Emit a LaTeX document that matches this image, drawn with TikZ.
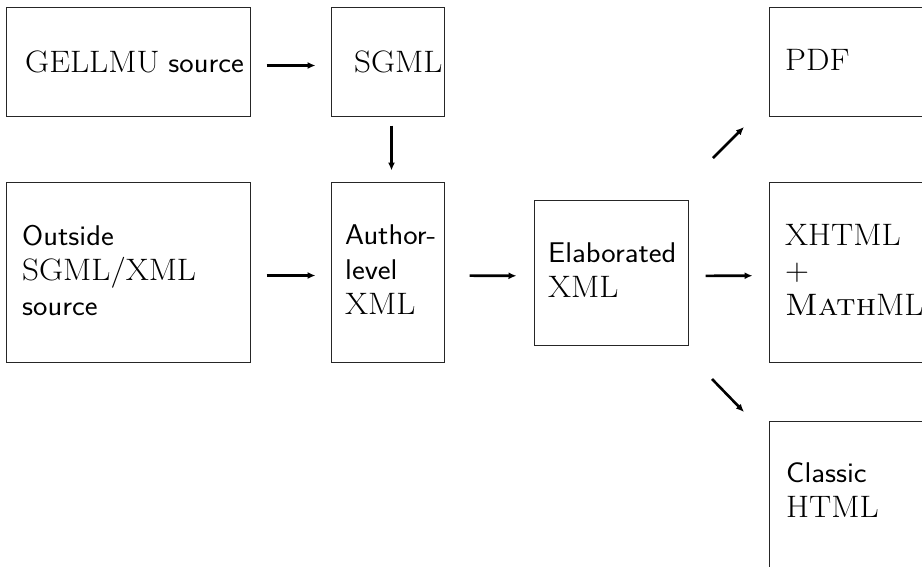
\documentclass[tikz,border=0pt]{standalone}
\usepackage{fontspec}
\usetikzlibrary{arrows.meta,calc}
\newcommand{\sfs}{\fontsize{28.5}{35}\selectfont\sffamily}
\tikzset{
  box/.style={draw=black!85, line width=1pt, rectangle, inner sep=0pt},
  txt/.style={anchor=west, align=left, inner sep=0pt, xscale=1.07, transform shape,
              font=\fontsize{31}{35}\selectfont},
  arr/.style={line width=2.6pt, -{Latex[length=8pt,width=7pt]}}
}
\begin{document}
\begin{tikzpicture}[x=1pt,y=-1pt]
\useasboundingbox (0,0) rectangle (922,566);
\clip (0,0) rectangle (922,566);
% boxes
\node[box, minimum width=244pt, minimum height=109pt] (gel) at (128,61.5) {};
\node[box, minimum width=113pt, minimum height=109pt] (sgml) at (387.5,61.5) {};
\node[box, minimum width=244pt, minimum height=180pt] (out) at (128,272) {};
\node[box, minimum width=113pt, minimum height=180pt] (auth) at (387.5,272) {};
\node[box, minimum width=154pt, minimum height=145pt] (elab) at (611,272.5) {};
\node[box, minimum width=182pt, minimum height=109pt] (pdf) at (860,61.5) {};
\node[box, minimum width=182pt, minimum height=180pt] (xhtml) at (860,272) {};
\node[box, minimum width=182pt, minimum height=180pt] (cls) at (860,511) {};
% texts
\node[txt] (tgel) at (25,62) {GELLMU\hspace{-1pt} {\sfs source}};
\node[txt] (tsgml) at (354,62) {SGML};
\node[txt] (tout) at (22,270) {{\sfs Outside}\\SGML/XML\\{\sfs source}};
\node[txt] (tauth) at (345,270) {{\sfs Author-}\\{\sfs level}\\XML};
\node[txt] (telab) at (548,270) {{\sfs Elaborated}\\XML};
\node[txt] (tpdf) at (785,60) {PDF};
\node[txt] (txhtml) at (785,270) {XHTML\\+\\\textsc{Math}ML};
\node[txt] (tcls) at (786,490) {{\sfs Classic}\\HTML};
% connectors
\draw[arr, shorten <=16pt, shorten >=15pt, transform canvas={yshift=-4pt}] (gel) -- (sgml);
\draw[arr, shorten <=9pt, shorten >=11pt, transform canvas={xshift=4pt}] (sgml) -- (auth);
\draw[arr, shorten <=16pt, shorten >=15pt, transform canvas={yshift=-3.5pt}] (out) -- (auth);
\draw[arr, shorten <=25pt, shorten >=17pt, transform canvas={yshift=-3.5pt}] (auth) -- (elab);
\draw[arr, shorten <=17pt, shorten >=16pt, transform canvas={yshift=-3.5pt}] (elab) -- (xhtml);
\coordinate (pa) at (713,158);
\coordinate (pb) at (744,127);
\coordinate (ca) at (712,379);
\coordinate (cb) at (744,412);
\draw[arr] (pa) -- (pb);
\draw[arr] (ca) -- (cb);
\end{tikzpicture}
\end{document}
